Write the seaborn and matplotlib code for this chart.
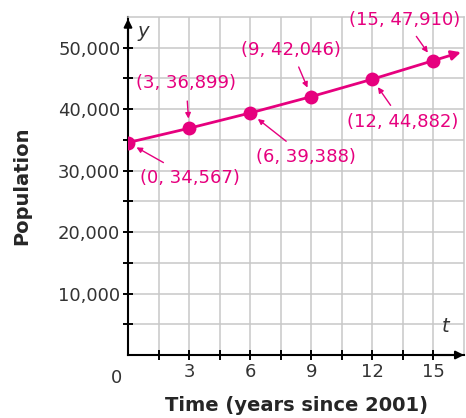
import matplotlib
matplotlib.use("Agg")
import matplotlib.pyplot as plt
import seaborn as sns
import pandas as pd

years = [0, 3, 6, 9, 12, 15]
population = [34567, 36899, 39388, 42046, 44882, 47910]
point_labels = ["(0, 34,567)", "(3, 36,899)", "(6, 39,388)",
                "(9, 42,046)", "(12, 44,882)", "(15, 47,910)"]
x_ticks = [3, 6, 9, 12, 15]
x_minor = [1.5, 4.5, 7.5, 10.5, 13.5]
y_ticks = [10000, 20000, 30000, 40000, 50000]
y_tick_labels = ["10,000", "20,000", "30,000", "40,000", "50,000"]
y_minor = [5000, 15000, 25000, 35000, 45000]

# where each label sits relative to its point (pixels)
label_offsets = [(62, -35), (-3, 45), (56, -44), (-20, 47), (30, -43), (-29, 41)]

MAG = "#E6007E"
GRID = "#c8c8c8"

sns.set_style("white")
plt.rcParams["font.family"] = ["DejaVu Sans"]

df = pd.DataFrame({"t": years, "pop": population})

fig = plt.figure(figsize=(4.66, 4.18), dpi=100)
ax = fig.add_axes([0.2747, 0.1507, 0.7210, 0.8086])

ax.set_xlim(0, 16.5)
ax.set_ylim(0, 55000)

ax.set_xticks(x_ticks)
ax.set_xticks(x_minor, minor=True)
ax.set_yticks(y_ticks)
ax.set_yticklabels(y_tick_labels)
ax.set_yticks(y_minor, minor=True)
ax.grid(True, which="both", color=GRID, lw=1.1, zorder=0)
ax.set_axisbelow(True)
ax.tick_params(which="both", direction="inout", length=7, width=1.4,
               bottom=True, left=True, color="black",
               labelsize=13, labelcolor="#333333")
ax.tick_params(axis="y", pad=2)
ax.tick_params(axis="x", pad=2)

for s in ["left", "bottom"]:
    ax.spines[s].set_color("black")
    ax.spines[s].set_linewidth(1.5)
for s in ["top", "right"]:
    ax.spines[s].set_color(GRID)
    ax.spines[s].set_linewidth(1.1)

# axis arrows
ax.annotate("", xy=(1, 0), xycoords="axes fraction", xytext=(0.9, 0),
            arrowprops=dict(arrowstyle="-|>", color="black", lw=1.5,
                            mutation_scale=12, shrinkA=0, shrinkB=0))
ax.annotate("", xy=(0, 0.995), xycoords="axes fraction", xytext=(0, 0.9),
            arrowprops=dict(arrowstyle="-|>", color="black", lw=1.5,
                            mutation_scale=12, shrinkA=0, shrinkB=0))

sns.lineplot(data=df, x="t", y="pop", color=MAG, lw=2, marker="o",
             markersize=10, markeredgewidth=0, ax=ax, zorder=3)

# extend the trend past the last point with an arrow
slope = (population[-1] - population[-2]) / (years[-1] - years[-2])
x_end = 16.35
y_end = population[-1] + slope * (x_end - years[-1])
ax.annotate("", xy=(x_end, y_end), xytext=(years[-1], population[-1]),
            arrowprops=dict(arrowstyle="-|>", color=MAG, lw=2,
                            mutation_scale=14, shrinkA=0, shrinkB=0))

for x, y, lbl, off in zip(years, population, point_labels, label_offsets):
    ax.annotate(lbl, xy=(x, y), xytext=off, textcoords="offset pixels",
                ha="center", va="center", color=MAG, fontsize=13,
                arrowprops=dict(arrowstyle="-|>", color=MAG, lw=1,
                                mutation_scale=8, shrinkA=4, shrinkB=7))

ax.set_xlabel("Time (years since 2001)", fontsize=14, fontweight="bold", labelpad=11)
ax.set_ylabel("Population", fontsize=14, fontweight="bold", labelpad=19)
ax.text(-0.035, -0.04, "0", transform=ax.transAxes, ha="center", va="top",
        fontsize=13, color="#333333")
ax.text(0.045, 0.985, "y", transform=ax.transAxes, ha="center", va="top",
        fontsize=14, style="italic", color="#333333")
ax.text(0.945, 0.055, "t", transform=ax.transAxes, ha="center", va="bottom",
        fontsize=14, style="italic", color="#333333")

fig.savefig("out.png", dpi=100)
